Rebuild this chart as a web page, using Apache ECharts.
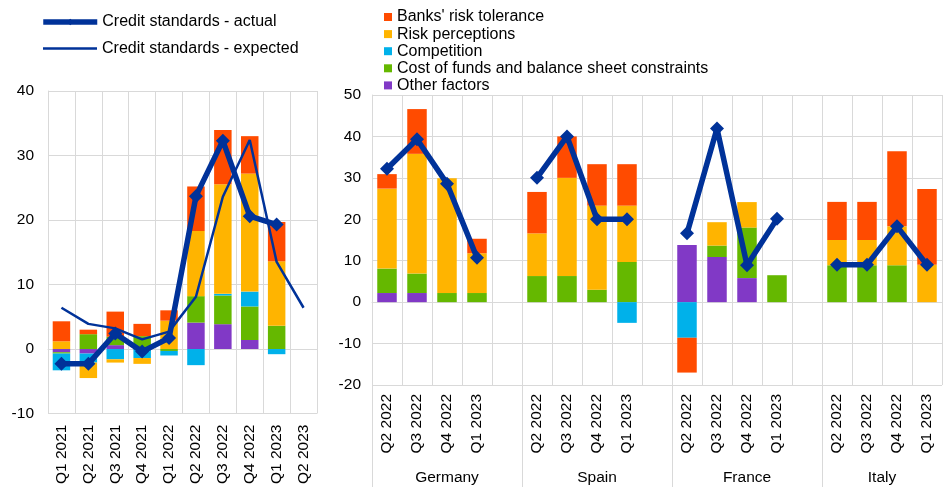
<!DOCTYPE html>
<html>
<head>
<meta charset="utf-8">
<script src="https://cdn.jsdelivr.net/npm/echarts@6/dist/echarts.min.js"></script>
<style>
html,body{margin:0;padding:0;background:#fff;}
#c{width:943px;height:487px;}
</style>
</head>
<body>
<div id="c"></div>
<script>
// ---- Left panel data (euro area) ----
const leftQuarters = ['Q1 2021','Q2 2021','Q3 2021','Q4 2021','Q1 2022','Q2 2022','Q3 2022','Q4 2022','Q1 2023','Q2 2023'];
const leftOther       = [-0.5, -0.7, 0.6, 0, 0, 4.1, 3.85, 1.4, 0, 0];
const leftCost        = [-0.2, 2.3, 1.3, 2.0, -0.3, 4.1, 4.45, 5.2, 3.6, 0];
const leftCompetition = [-2.6, -1.4, -1.6, -1.4, -0.7, -2.5, 0.25, 2.3, -0.8, 0];
const leftPerceptions = [1.2, -2.4, -0.5, -0.9, 4.4, 10.1, 17.0, 18.3, 10.0, 0];
const leftTolerance   = [3.1, 0.7, 3.9, 1.9, 1.6, 6.9, 8.4, 5.8, 6.1, 0];
const leftActual      = [-2.3, -2.3, 2.4, -0.4, 1.7, 23.7, 32.3, 20.6, 19.3, null];
const leftExpected    = [6.4, 3.9, 3.2, 1.5, 2.7, 8.1, 23.6, 32.4, 13.5, 6.4];

// ---- Right panel data (countries; null = gap slot between countries) ----
const countries = ['Germany','Spain','France','Italy'];
const countryQuarters = ['Q2 2022','Q3 2022','Q4 2022','Q1 2023'];
const rightTolerance   = [3.5, 10.8, 0, 3.5, null,  10, 10, 10, 10, null,  -8.4, 0, 0, 0, null,  9.2, 9.2, 18.1, 18.3];
const rightPerceptions = [19.3, 28.9, 27.7, 9.6, null,  10.3, 23.7, 20.3, 13.6, null,  0, 5.65, 6.15, 0, null,  6.1, 6.1, 9.4, 9.0];
const rightCompetition = [0, 0, 0, 0, null,  0, 0, 0, -5.0, null,  -8.6, 0, 0, 0, null,  0, 0, 0, 0];
const rightCost        = [5.9, 4.7, 2.2, 2.2, null,  6.3, 6.3, 3.0, 9.7, null,  0, 2.75, 12.2, 6.5, null,  8.9, 8.9, 8.9, 0];
const rightOther       = [2.2, 2.2, 0, 0, null,  0, 0, 0, 0, null,  13.8, 10.9, 5.8, 0, null,  0, 0, 0, 0];
const rightActual      = [32.2, 39.3, 28.6, 10.7, null,  30, 40, 20, 20, null,  16.6, 41.9, 8.9, 20.1, null,  9, 9, 18.3, 9];

// ---- Build category list for the right panel ----
const rightCats = [];
countries.forEach((c, i) => {
  countryQuarters.forEach(q => rightCats.push(q));
  if (i < countries.length - 1) rightCats.push('');
});
const slot = countryQuarters.length + 1;
const countryCenters = countries.map((c, i) => i * slot + (i < countries.length - 1 ? slot : countryQuarters.length) / 2);
const countryStarts = countries.map((c, i) => i * slot);

const FONT = 'Liberation Sans, Arial, sans-serif';
const FS = 15.5;
const LFS = 16;
const GRIDC = '#d9d9d9';
const LINEC = '#003299';
const colors = {
  tol: '#FF4B00', perc: '#FFB400', comp: '#00B1EA', cost: '#65B800', other: '#8139C6'
};
const names = {
  tol: "Banks' risk tolerance", perc: 'Risk perceptions', comp: 'Competition',
  cost: 'Cost of funds and balance sheet constraints', other: 'Other factors'
};

function barSeries(key, data, idx) {
  return {
    type: 'bar', name: names[key], data: data, stack: 's' + idx,
    xAxisIndex: idx, yAxisIndex: idx, barWidth: '65%',
    itemStyle: { color: colors[key] }, z: 2
  };
}
const legendText = { fontSize: LFS, color: '#000', fontFamily: FONT, lineHeight: 17 };

const chart = echarts.init(document.getElementById('c'), null, { renderer: 'canvas' });
const option = {
  animation: false,
  textStyle: { fontFamily: FONT },
  grid: [
    { left: 48, top: 91, width: 269, height: 324, containLabel: false },
    { left: 372, top: 95, width: 570, height: 290, containLabel: false }
  ],
  legend: [
    {
      orient: 'vertical', left: 40.5, top: 13.5, itemWidth: 54, itemHeight: 8, padding: 0,
      data: ['Credit standards - actual'],
      lineStyle: { width: 5.5 },
      textStyle: legendText, selectedMode: false
    },
    {
      orient: 'vertical', left: 43, top: 40, itemWidth: 54, itemHeight: 2.5, padding: 0,
      icon: 'rect', itemStyle: { borderWidth: 0 },
      data: ['Credit standards - expected'],
      textStyle: legendText, selectedMode: false
    },
    {
      orient: 'vertical', left: 384, top: 8.5, itemWidth: 8, itemHeight: 8, itemGap: 0.1, padding: 0,
      icon: 'rect',
      data: [names.tol, names.perc, names.comp, names.cost, names.other],
      textStyle: legendText, selectedMode: false
    }
  ],
  xAxis: [
    {
      type: 'category', gridIndex: 0, data: leftQuarters, position: 'bottom',
      axisLine: { show: true, lineStyle: { color: GRIDC } },
      axisTick: { show: false },
      splitLine: { show: true, interval: 0, lineStyle: { color: GRIDC } },
      axisLabel: { interval: 0, rotate: 90, margin: 11, fontSize: FS, color: '#000', fontFamily: FONT }
    },
    {
      type: 'category', gridIndex: 1, data: rightCats, position: 'bottom',
      axisLine: { show: true, lineStyle: { color: GRIDC } },
      axisTick: { show: false },
      splitLine: { show: true, interval: 0, lineStyle: { color: GRIDC } },
      axisLabel: { interval: 0, rotate: 90, margin: 9, fontSize: FS, color: '#000', fontFamily: FONT }
    },
    {
      type: 'value', gridIndex: 1, min: 0, max: rightCats.length, position: 'bottom',
      axisLine: { show: false },
      axisTick: { show: true, customValues: countryStarts, length: 102, lineStyle: { color: GRIDC } },
      splitLine: { show: false },
      axisLabel: {
        customValues: countryCenters, margin: 85, fontSize: FS, color: '#000', fontFamily: FONT,
        formatter: function (v) {
          const k = countryCenters.findIndex(c => Math.abs(c - v) < 1e-6);
          return k >= 0 ? countries[k] : '';
        }
      }
    }
  ],
  yAxis: [
    {
      type: 'value', gridIndex: 0, min: -10, max: 40, interval: 10,
      axisLine: { show: true, lineStyle: { color: GRIDC } }, axisTick: { show: false },
      splitLine: { show: true, lineStyle: { color: GRIDC } },
      axisLabel: { margin: 14, fontSize: FS, color: '#000', fontFamily: FONT }
    },
    {
      type: 'value', gridIndex: 1, min: -20, max: 50, interval: 10,
      axisLine: { show: true, lineStyle: { color: GRIDC } }, axisTick: { show: false },
      splitLine: { show: true, lineStyle: { color: GRIDC } },
      axisLabel: { margin: 11, fontSize: FS, color: '#000', fontFamily: FONT }
    }
  ],
  series: [
    barSeries('other', leftOther, 0),
    barSeries('cost', leftCost, 0),
    barSeries('comp', leftCompetition, 0),
    barSeries('perc', leftPerceptions, 0),
    barSeries('tol', leftTolerance, 0),
    {
      type: 'line', name: 'Credit standards - expected', data: leftExpected,
      xAxisIndex: 0, yAxisIndex: 0, symbol: 'none',
      lineStyle: { color: LINEC, width: 2.5 }, itemStyle: { color: LINEC }, z: 5
    },
    {
      type: 'line', name: 'Credit standards - actual', data: leftActual,
      xAxisIndex: 0, yAxisIndex: 0, symbol: 'diamond', symbolSize: 14,
      lineStyle: { color: LINEC, width: 5.5 }, itemStyle: { color: LINEC }, z: 6
    },
    barSeries('other', rightOther, 1),
    barSeries('cost', rightCost, 1),
    barSeries('comp', rightCompetition, 1),
    barSeries('perc', rightPerceptions, 1),
    barSeries('tol', rightTolerance, 1),
    {
      type: 'line', name: 'Credit standards - actual', data: rightActual,
      xAxisIndex: 1, yAxisIndex: 1, symbol: 'diamond', symbolSize: 14, connectNulls: false,
      lineStyle: { color: LINEC, width: 5.5 }, itemStyle: { color: LINEC }, z: 6
    }
  ]
};
chart.setOption(option);
</script>
</body>
</html>
